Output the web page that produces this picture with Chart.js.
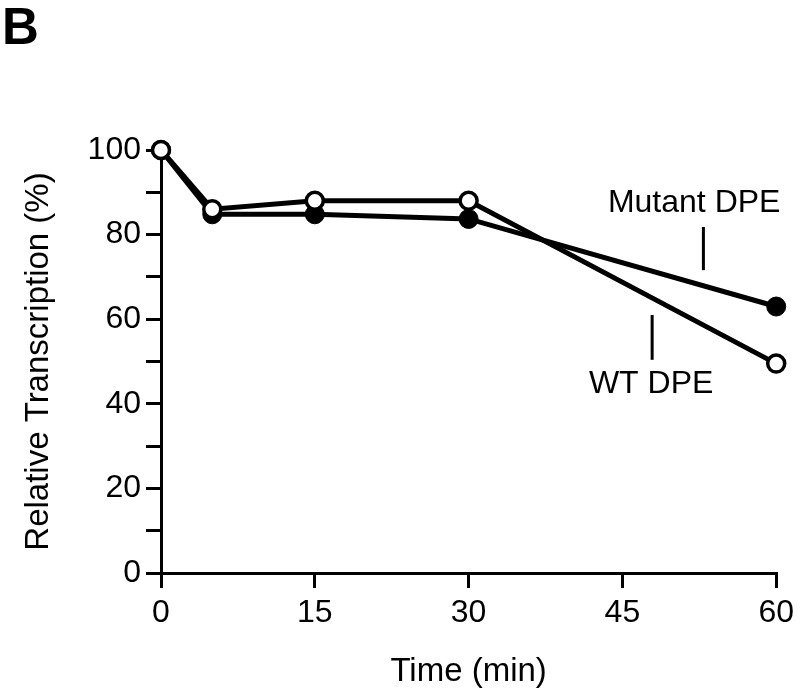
<!DOCTYPE html>
<html>
<head>
<meta charset="utf-8">
<script src="https://cdn.jsdelivr.net/npm/chart.js@4"></script>
<style>
  html, body { margin: 0; padding: 0; background: #fff; }
  canvas { display: block; }
</style>
</head>
<body>
<canvas id="chart" width="800" height="689"></canvas>
<script>
const timeMin = [0, 5, 15, 30, 60];
const wtDPE = [100, 86, 88, 88, 49.5];
const mutantDPE = [100, 84.8, 84.8, 83.7, 63];
const xTicks = [0, 15, 30, 45, 60];
const yTicks = [0, 20, 40, 60, 80, 100];

const FONT = "'Liberation Sans', Arial, Helvetica, sans-serif";

// series labels with their leader lines (data coordinates)
const seriesNotes = [
  { text: "Mutant DPE", x: 52, y: 87.6, line: [52.9, 81.8, 71.6] },
  { text: "WT DPE", x: 47.8, y: 44.8, line: [47.9, 61, 50.4] }
];

const notesPlugin = {
  id: "notes",
  afterDatasetsDraw(chart) {
    const { ctx, scales } = chart;
    const xs = scales.x, ys = scales.y;
    ctx.save();
    ctx.fillStyle = "#000";
    ctx.strokeStyle = "#000";
    ctx.font = "32px " + FONT;
    ctx.textAlign = "center";
    ctx.textBaseline = "middle";
    seriesNotes.forEach(n => {
      ctx.fillText(n.text, xs.getPixelForValue(n.x), ys.getPixelForValue(n.y) + 1);
      const lx = xs.getPixelForValue(n.line[0]);
      ctx.lineWidth = 3;
      ctx.beginPath();
      ctx.moveTo(lx, ys.getPixelForValue(n.line[1]));
      ctx.lineTo(lx, ys.getPixelForValue(n.line[2]));
      ctx.stroke();
    });
    // panel letter
    ctx.font = "bold 51px " + FONT;
    ctx.textAlign = "left";
    ctx.textBaseline = "top";
    ctx.fillText("B", 2, 4);
    ctx.restore();
  }
};

new Chart(document.getElementById("chart"), {
  type: "line",
  data: {
    datasets: [
      {
        label: "WT DPE",
        data: timeMin.map((t, i) => ({ x: t, y: wtDPE[i] })),
        borderColor: "#000",
        borderWidth: 5,
        pointRadius: 8.5,
        pointBorderWidth: 3.5,
        pointBackgroundColor: "#fff",
        pointBorderColor: "#000",
        tension: 0,
        clip: false
      },
      {
        label: "Mutant DPE",
        data: timeMin.map((t, i) => ({ x: t, y: mutantDPE[i] })),
        borderColor: "#000",
        borderWidth: 5,
        pointRadius: 9.5,
        pointBorderWidth: 1,
        pointBackgroundColor: "#000",
        pointBorderColor: "#000",
        tension: 0,
        clip: false
      }
    ]
  },
  options: {
    responsive: false,
    devicePixelRatio: 1,
    animation: false,
    layout: { padding: { top: 150, right: 23, left: 0, bottom: 0 } },
    plugins: {
      legend: { display: false },
      tooltip: { enabled: false }
    },
    scales: {
      x: {
        type: "linear",
        min: 0,
        max: 60,
        afterBuildTicks: s => { s.ticks = xTicks.map(v => ({ value: v })); },
        afterFit: s => { s.height = 116; },
        border: { display: true, color: "#000", width: 3 },
        grid: { drawOnChartArea: false, drawTicks: true, tickLength: 15, color: "#000", lineWidth: 3 },
        ticks: { color: "#000", font: { family: FONT, size: 32 }, padding: 6, maxRotation: 0 },
        title: { display: true, text: "Time (min)", color: "#000", font: { family: FONT, size: 33 }, padding: { top: 0, bottom: -3 } }
      },
      y: {
        min: 0,
        max: 100,
        ticks: {
          stepSize: 10,
          color: "#000",
          font: { family: FONT, size: 32 },
          padding: 5,
          callback: v => yTicks.includes(v) ? String(v) : ""
        },
        afterFit: s => { s.width = 161; },
        border: { display: true, color: "#000", width: 3 },
        grid: { drawOnChartArea: false, drawTicks: true, tickLength: 15, color: "#000", lineWidth: 3 },
        title: { display: true, text: "Relative Transcription (%)", color: "#000", font: { family: FONT, size: 33 }, padding: { top: 19, bottom: 0 } }
      }
    }
  },
  plugins: [notesPlugin]
});
</script>
</body>
</html>
